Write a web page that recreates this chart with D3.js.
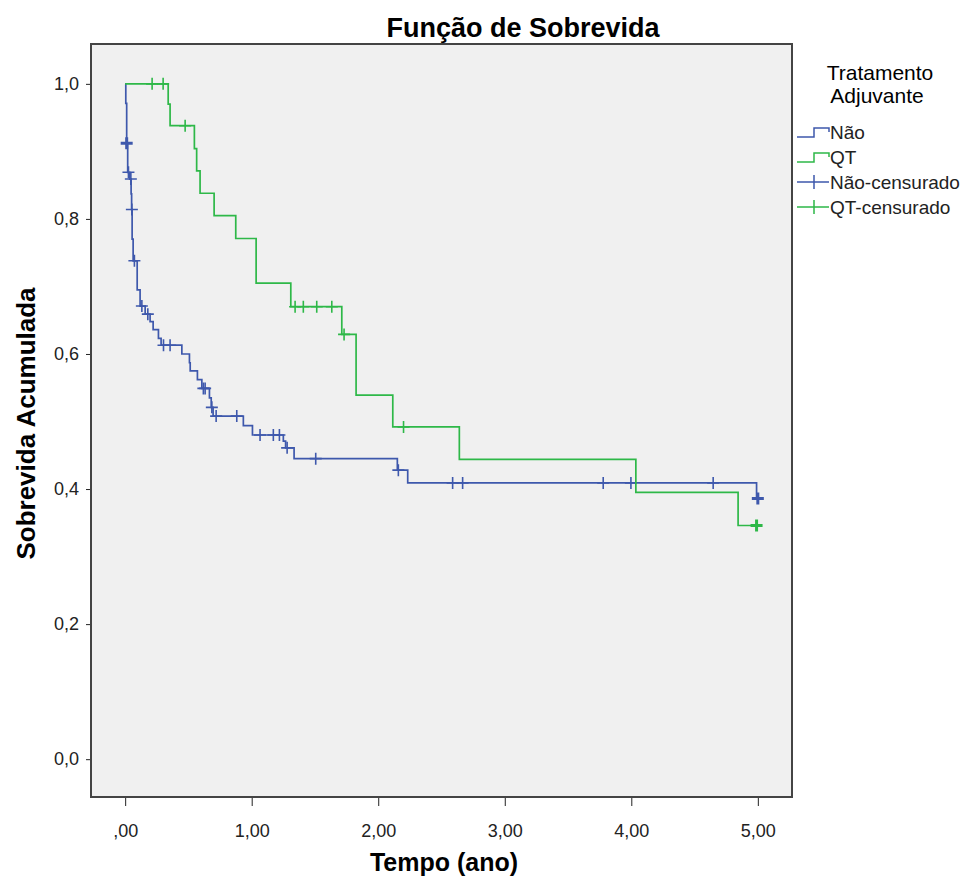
<!DOCTYPE html>
<html>
<head>
<meta charset="utf-8">
<script src="https://cdn.jsdelivr.net/npm/d3@7"></script>
<style>
  body { margin: 0; background: #fff; }
  text { font-family: "Liberation Sans", Arial, sans-serif; }
</style>
</head>
<body>
<div id="chart"></div>
<script>
// Kaplan-Meier steps: [tempo, sobrevida após o evento]
const naoSteps = [
  [0.005, 0.971], [0.012, 0.912], [0.020, 0.869], [0.036, 0.859], [0.047, 0.837],
  [0.051, 0.814], [0.055, 0.770], [0.063, 0.738], [0.095, 0.695], [0.118, 0.671],
  [0.158, 0.659], [0.197, 0.648], [0.221, 0.636], [0.263, 0.623], [0.284, 0.613],
  [0.448, 0.600], [0.508, 0.587], [0.514, 0.575], [0.571, 0.562], [0.606, 0.549],
  [0.666, 0.535], [0.680, 0.521], [0.695, 0.508], [0.934, 0.494], [1.006, 0.480],
  [1.250, 0.471], [1.268, 0.461], [1.335, 0.445], [2.151, 0.428], [2.233, 0.409],
  [4.990, 0.386]
];
const qtSteps = [
  [0.340, 0.970], [0.355, 0.938], [0.547, 0.904], [0.565, 0.871], [0.592, 0.838],
  [0.703, 0.805], [0.874, 0.771], [1.035, 0.705], [1.309, 0.670], [1.712, 0.629],
  [1.825, 0.539], [2.115, 0.492], [2.641, 0.444], [4.036, 0.395], [4.844, 0.346]
];
// censurados: [tempo, sobrevida, n]
const naoCensored = [
  [0.012, 0.912, 3], [0.026, 0.869, 1], [0.045, 0.859, 1], [0.053, 0.814, 1],
  [0.073, 0.738, 1], [0.132, 0.671, 1], [0.179, 0.659, 1], [0.303, 0.613, 1],
  [0.355, 0.613, 1], [0.618, 0.549, 1], [0.632, 0.549, 1], [0.685, 0.521, 1],
  [0.719, 0.508, 1], [0.882, 0.508, 1], [1.066, 0.480, 1], [1.171, 0.480, 1],
  [1.219, 0.480, 1], [1.280, 0.461, 1], [1.506, 0.445, 1], [2.159, 0.428, 1],
  [2.588, 0.409, 1], [2.667, 0.409, 1], [3.778, 0.409, 1], [3.997, 0.409, 1],
  [4.647, 0.409, 1], [5.000, 0.386, 4]
];
const qtCensored = [
  [0.213, 1.000, 1], [0.300, 1.000, 1], [0.474, 0.938, 2], [1.343, 0.670, 1],
  [1.408, 0.670, 1], [1.514, 0.670, 1], [1.633, 0.670, 1], [1.730, 0.629, 2],
  [2.200, 0.492, 1], [4.990, 0.346, 3]
];
const xTicks = [0, 1, 2, 3, 4, 5];
const xTickLabels = [",00", "1,00", "2,00", "3,00", "4,00", "5,00"];
const yTicks = [0, 0.2, 0.4, 0.6, 0.8, 1.0];
const yTickLabels = ["0,0", "0,2", "0,4", "0,6", "0,8", "1,0"];
const groups = ["Não", "QT"];
const colors = ["#3E58AC", "#2EB848"];

const width = 964, height = 877;
const margin = {top: 44, right: 172, bottom: 80, left: 91};

const svg = d3.select("#chart").append("svg")
    .attr("width", width)
    .attr("height", height);

const x = d3.scaleLinear().domain([-0.27, 5.27]).range([margin.left, width - margin.right]);
const y = d3.scaleLinear().domain([-0.056, 1.059]).range([height - margin.bottom, margin.top]);

// plot background
svg.append("rect")
    .attr("x", margin.left)
    .attr("y", margin.top)
    .attr("width", x.range()[1] - margin.left)
    .attr("height", y.range()[0] - margin.top)
    .attr("fill", "#f0f0f0");

// axes
const xAxis = svg.append("g")
    .attr("transform", `translate(0,${y.range()[0]})`)
    .call(d3.axisBottom(x).tickValues(xTicks).tickSize(9).tickPadding(18)
      .tickFormat((d, i) => xTickLabels[i]));
const yAxis = svg.append("g")
    .attr("transform", `translate(${margin.left},0)`)
    .call(d3.axisLeft(y).tickValues(yTicks).tickSize(5).tickPadding(7)
      .tickFormat((d, i) => yTickLabels[i]));
[xAxis, yAxis].forEach(a => {
  a.select(".domain").remove();
  a.selectAll(".tick line").attr("stroke", "#222");
  a.selectAll(".tick text")
    .attr("fill", "#222")
    .style("font-size", "18px")
    .style("font-family", "'Liberation Sans', Arial, sans-serif");
});

// curves
const line = d3.line()
    .x(d => x(d[0]))
    .y(d => y(d[1]))
    .curve(d3.curveStepAfter);

const series = [
  {steps: naoSteps, cens: naoCensored, color: colors[0]},
  {steps: qtSteps, cens: qtCensored, color: colors[1]}
];

series.forEach(s => {
  const last = s.cens[s.cens.length - 1];
  const pts = [[0, 1]].concat(s.steps, [[last[0], s.steps[s.steps.length - 1][1]]]);
  svg.append("path")
      .attr("d", line(pts))
      .attr("fill", "none")
      .attr("stroke", s.color)
      .attr("stroke-width", 1.7);

  svg.append("g")
      .selectAll("path")
      .data(s.cens)
      .join("path")
      .attr("d", d => `M${x(d[0])},${y(d[1]) - 6}V${y(d[1]) + 6}M${x(d[0]) - 6},${y(d[1])}H${x(d[0]) + 6}`)
      .attr("stroke", s.color)
      .attr("stroke-width", d => d[2] > 2 ? 3 : 1.6)
      .attr("fill", "none");
});

// frame
svg.append("rect")
    .attr("x", margin.left)
    .attr("y", margin.top)
    .attr("width", x.range()[1] - margin.left)
    .attr("height", y.range()[0] - margin.top)
    .attr("fill", "none")
    .attr("stroke", "#444")
    .attr("stroke-width", 2);

// titles
svg.append("text")
    .attr("x", 523)
    .attr("y", 37)
    .attr("text-anchor", "middle")
    .style("font-size", "27px")
    .style("font-weight", "bold")
    .text("Função de Sobrevida");

svg.append("text")
    .attr("x", 444)
    .attr("y", 871)
    .attr("text-anchor", "middle")
    .style("font-size", "25px")
    .style("font-weight", "bold")
    .text("Tempo (ano)");

svg.append("text")
    .attr("transform", `translate(35,${(margin.top + y.range()[0]) / 2 + 3}) rotate(-90)`)
    .attr("text-anchor", "middle")
    .style("font-size", "26px")
    .style("font-weight", "bold")
    .text("Sobrevida Acumulada");

// legend
const lg = svg.append("g").attr("transform", "translate(797,0)");
lg.append("text").attr("x", 83).attr("y", 80).attr("text-anchor", "middle")
    .style("font-size", "21px").text("Tratamento");
lg.append("text").attr("x", 80).attr("y", 103).attr("text-anchor", "middle")
    .style("font-size", "21px").text("Adjuvante");

const legendItems = [
  {label: groups[0], color: colors[0], type: "step"},
  {label: groups[1], color: colors[1], type: "step"},
  {label: groups[0] + "-censurado", color: colors[0], type: "cens"},
  {label: groups[1] + "-censurado", color: colors[1], type: "cens"}
];
legendItems.forEach((it, i) => {
  const cy = 132 + i * 25;
  if (it.type === "step") {
    lg.append("path")
        .attr("d", `M0,${cy + 5}H17V${cy - 4}H32V${cy}`)
        .attr("fill", "none").attr("stroke", it.color).attr("stroke-width", 1.5);
  } else {
    lg.append("path")
        .attr("d", `M0,${cy}H32M17,${cy - 7}V${cy + 7}`)
        .attr("fill", "none").attr("stroke", it.color).attr("stroke-width", 1.5);
  }
  lg.append("text")
      .attr("x", 33)
      .attr("y", cy + 7)
      .style("font-size", "19px")
      .attr("fill", "#222")
      .text(it.label);
});
</script>
</body>
</html>
